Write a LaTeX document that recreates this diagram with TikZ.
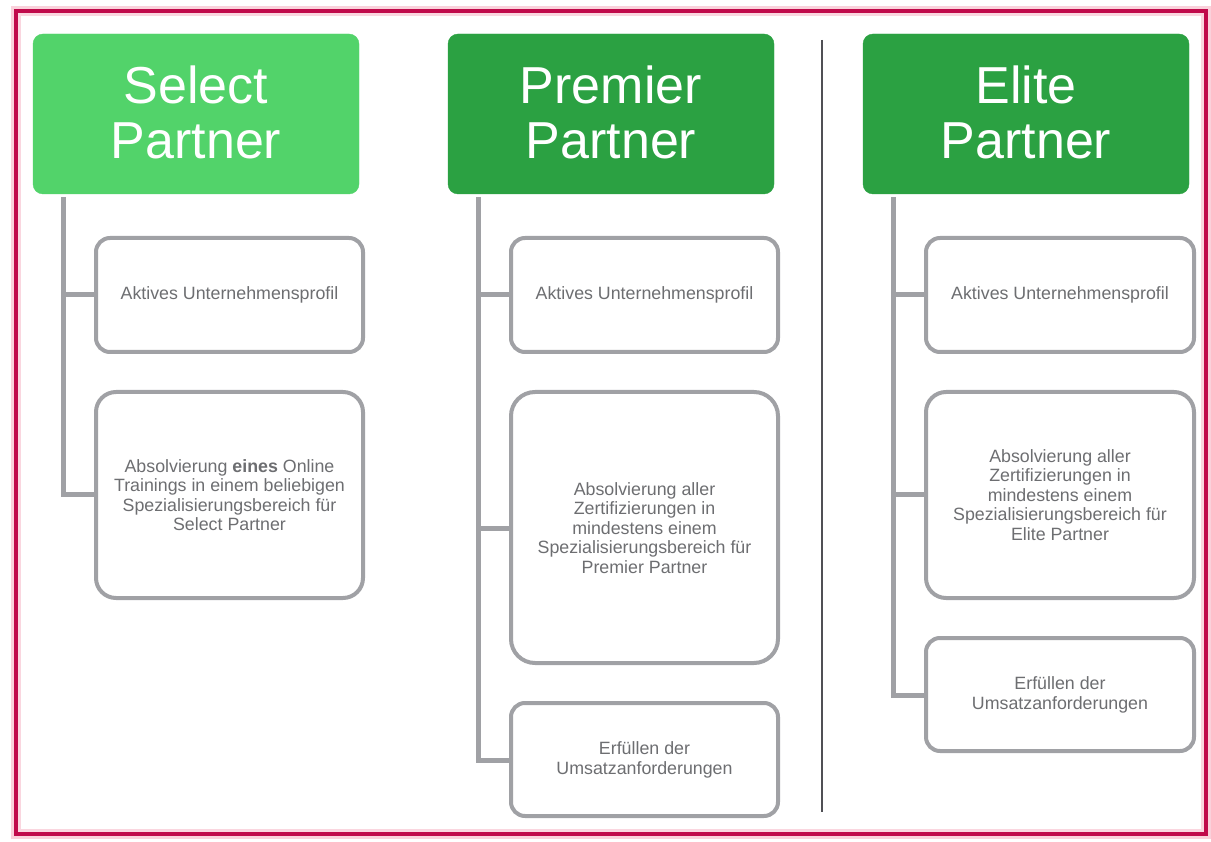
\documentclass[tikz,border=0pt]{standalone}
\usepackage{fontspec}
\setmainfont{Liberation Sans}
\definecolor{frame}{HTML}{C00A4B}
\definecolor{glow}{HTML}{F5A3B8}
\definecolor{selgreen}{HTML}{52D36A}
\definecolor{darkgreen}{HTML}{2BA142}
\definecolor{conn}{HTML}{A0A1A5}
\definecolor{txt}{HTML}{6D6E71}
\definecolor{sep}{HTML}{505055}
\begin{document}
\begin{tikzpicture}[x=1pt,y=-1pt,
  head/.style={rounded corners=10pt, inner sep=0pt, text=white, align=center,
    font=\fontsize{52}{55}\selectfont},
  item/.style={draw=conn, line width=4pt, rounded corners=14pt, fill=white, inner sep=0pt,
    text=txt, align=center, font=\fontsize{17.8}{19.5}\selectfont},
  conline/.style={draw=conn, line width=5pt}]
\useasboundingbox (0,0) rectangle (1211,842);
% frame
\draw[glow, line width=10pt, opacity=0.5] (16,11) rectangle (1206,834);
\draw[glow!45, line width=3pt] (19.5,14.5) rectangle (1202.5,830.5);
\draw[frame, line width=4pt] (16,11) rectangle (1206,834);
% separator
\draw[sep, line width=2.2pt] (822,40) -- (822,812);

% ---------- Select ----------
\filldraw[selgreen, rounded corners=10pt] (33,34) rectangle (359,194);
\node[head] (sel) at (196,112) {Select\\Partner};
\coordinate (selh) at (63,197);
\draw[item] (96,238) rectangle (363,352);
\node[item, draw=none, fill=none] (s1) at (229.5,295) {Aktives Unternehmensprofil};
\draw[item, rounded corners=20pt] (96,392) rectangle (363,598);
\node[item, draw=none, fill=none] (s2) at (229.5,495) {Absolvierung \textbf{eines} Online\\Trainings in einem beliebigen\\Spezialisierungsbereich für\\Select Partner};
\coordinate (sa) at (63,295);
\coordinate (sb) at (63,494);
\draw[conline] (selh) -- (sb) -- (96,494);
\draw[conline] (sa) -- (96,295);

% ---------- Premier ----------
\filldraw[darkgreen, rounded corners=10pt] (448,34) rectangle (774,194);
\node[head] (pre) at (611,112) {Premier\\Partner};
\coordinate (preh) at (478,197);
\draw[item] (511,238) rectangle (778,352);
\node[item, draw=none, fill=none] (p1) at (644.5,295) {Aktives Unternehmensprofil};
\draw[item, rounded corners=24pt] (511,392) rectangle (778,663);
\node[item, draw=none, fill=none] (p2) at (644.5,528) {Absolvierung aller\\Zertifizierungen in\\mindestens einem\\Spezialisierungsbereich für\\Premier Partner};
\draw[item] (511,703) rectangle (778,816);
\node[item, draw=none, fill=none] (p3) at (644.5,760) {Erfüllen der\\Umsatzanforderungen};
\coordinate (pa) at (478,295);
\coordinate (pb) at (478,528);
\coordinate (pc) at (478,760);
\draw[conline] (preh) -- (pc) -- (511,760);
\draw[conline] (pa) -- (511,295);
\draw[conline] (pb) -- (511,528);

% ---------- Elite ----------
\filldraw[darkgreen, rounded corners=10pt] (863,34) rectangle (1189,194);
\node[head] (eli) at (1026,112) {Elite\\Partner};
\coordinate (elih) at (893,197);
\draw[item] (926,238) rectangle (1194,352);
\node[item, draw=none, fill=none] (e1) at (1060,295) {Aktives Unternehmensprofil};
\draw[item, rounded corners=20pt] (926,392) rectangle (1194,598);
\node[item, draw=none, fill=none] (e2) at (1060,495) {Absolvierung aller\\Zertifizierungen in\\mindestens einem\\Spezialisierungsbereich für\\Elite Partner};
\draw[item] (926,638) rectangle (1194,751);
\node[item, draw=none, fill=none] (e3) at (1060,695) {Erfüllen der\\Umsatzanforderungen};
\coordinate (ea) at (893,295);
\coordinate (eb) at (893,494);
\coordinate (ec) at (893,695);
\draw[conline] (elih) -- (ec) -- (926,695);
\draw[conline] (ea) -- (926,295);
\draw[conline] (eb) -- (926,494);
\end{tikzpicture}
\end{document}
